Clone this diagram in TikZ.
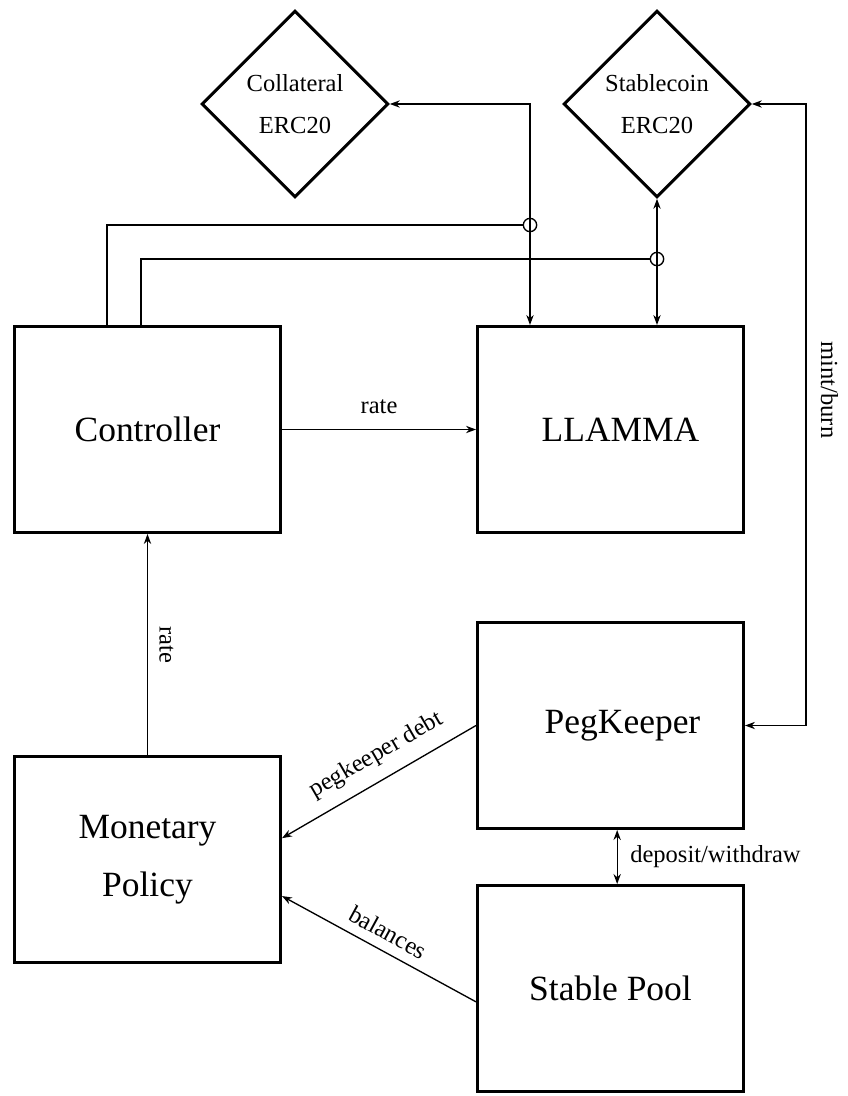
\documentclass[tikz,border=0pt]{standalone}
\usepackage{fontspec}
\setmainfont{Liberation Serif}
\usetikzlibrary{arrows.meta,positioning,shapes.geometric,calc}

\begin{document}
\begin{tikzpicture}[x=0.75pt,y=-0.75pt,every node/.style={font=\fontsize{18.4}{22}\selectfont}]
\tikzset{block/.style={draw, line width=2.25pt, minimum width=199.5pt, minimum height=154.5pt,
  align=center, font=\fontsize{26.6}{43.5}\selectfont},
  token/.style={draw, diamond, line width=2.25pt, minimum size=140pt, inner sep=0pt,
  align=center, font=\fontsize{18.4}{32}\selectfont},
  link/.style={line width=1pt, -{Stealth[length=7.5pt,width=5.5pt]}},
  both/.style={line width=1pt, {Stealth[length=7.5pt,width=5.5pt]}-{Stealth[length=7.5pt,width=5.5pt]}},
  tap/.style={line width=1pt},
  hop/.style={draw, circle, line width=1pt, minimum size=10pt, inner sep=0pt}}
\useasboundingbox (0,0) rectangle (847,1096);
\node[block] (ctrl) at (147.5,429.5) {Controller};
\node[block, right=145.5pt of ctrl] (llamma) {\hspace*{15pt}LLAMMA};
\node[block, below=65.25pt of llamma] (peg) {\hspace*{18pt}PegKeeper};
\node[block, below=40.5pt of peg] (pool) {Stable Pool};
\node[block, below=165.75pt of ctrl] (policy) {Monetary\\Policy};
\node[token] (coll) at (295,104) {Collateral\\ERC20};
\node[token] (stable) at (657,104) {Stablecoin\\ERC20};
\node[hop] (hop1) at (530,225) {};
\node[hop] (hop2) at (657,259) {};
\draw[link] (ctrl) -- node[above=8pt] {rate} (llamma);
\draw[link] (policy) -- node[xshift=5pt, rotate=-90, anchor=south] {rate} (ctrl);
\draw[both] (coll.east) -| ($(llamma.north)+(-80.5,0)$);
\draw[both] (stable.south) -- (stable.south |- llamma.north);
\draw[both] (stable.east) -- ++(54,0) |- node[pos=0.23, xshift=7.5pt, rotate=-90, anchor=south] {mint/burn} (peg.east);
\draw[tap] ($(ctrl.north)+(-40.5,0)$) |- (hop1);
\draw[tap] ($(ctrl.north)+(-6.5,0)$) |- (hop2);
\draw[link] (peg.west) -- node[pos=0.45, sloped, above=6pt] {pegkeeper debt} ([yshift=16pt]policy.east);
\draw[link] ([yshift=-10pt]pool.west) -- node[sloped, above=4pt] {balances} ([yshift=-27.4pt]policy.east);
\draw[both] ([xshift=5pt]peg.south) -- node[right=6pt] {deposit/withdraw} ([xshift=5pt]pool.north);
\end{tikzpicture}
\end{document}
